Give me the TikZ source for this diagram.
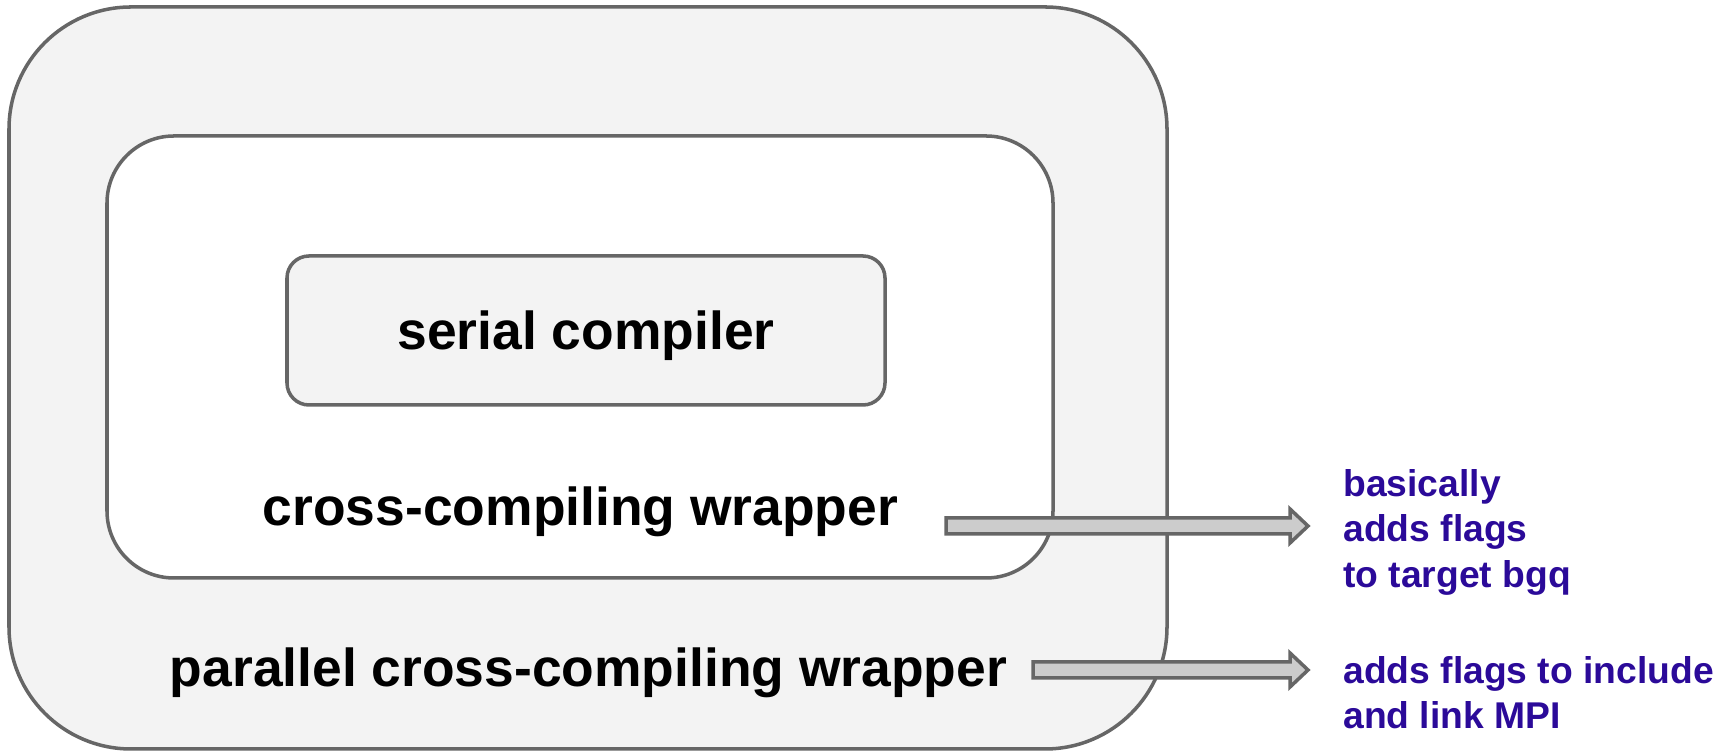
\documentclass[tikz,border=0pt]{standalone}
\usepackage{fontspec}
\setmainfont{Liberation Sans}
\usepackage{tikz}
\usetikzlibrary{positioning,calc}
\usepackage{xcolor}
\definecolor{boxgray}{HTML}{F3F3F3}
\definecolor{linegray}{HTML}{666666}
\definecolor{arrowgray}{HTML}{CCCCCC}
\definecolor{noteblue}{HTML}{2B0A99}

\begin{document}
\begin{tikzpicture}[
    box/.style={draw=linegray, line width=2pt, rectangle, inner sep=0pt},
    label/.style={inner sep=0pt, font=\bfseries\fontsize{30.4pt}{36pt}\selectfont},
    note/.style={inner sep=0pt, anchor=north west, align=left, text=noteblue, font=\bfseries\fontsize{21.2pt}{25.9pt}\selectfont},
    fatarrow/.style={draw=linegray, fill=arrowgray, line width=2pt}]
                    \useasboundingbox (0,0) rectangle (34.6,15.02);
                    % Level 0
                    \node[box, fill=boxgray, rounded corners=2.44cm, minimum width=23.16cm, minimum height=14.84cm] (outer) at (11.76,7.46) {};
                    % Level 1
                    \node[box, fill=white, rounded corners=1.34cm, minimum width=18.92cm, minimum height=8.84cm] (inner) at (11.6,7.88) {};
                    % Level 2
                    \node[box, fill=boxgray, rounded corners=0.44cm, minimum width=11.96cm, minimum height=2.98cm] (serial) at (11.72,8.41) {};
                    % labels
                    \node[label] (seriallabel) at (11.72,8.3) {serial compiler};
                    \node[label] (crosslabel) at (11.61,4.78) {cross-compiling wrapper};
                    \node[label] (parlabel) at (11.77,1.56) {parallel cross-compiling wrapper};
                    % notes
                    \node[note] (crossnote) at (26.86,5.64) {basically\\adds flags\\to target bgq};
                    \node[note] (parnote) at (26.86,1.9) {adds flags to include\\and link MPI};
                    % arrows
                    \coordinate (t1) at (18.92,4.5);
                    \coordinate (h1) at (26.16,4.5);
                    \coordinate (t2) at (20.66,1.62);
                    \coordinate (h2) at (26.16,1.62);
                    \draw[fatarrow] ($(t1)+(0,0.16)$) -- ($(h1)+(-0.36,0.16)$) -- ($(h1)+(-0.36,0.34)$) -- (h1)
                        -- ($(h1)+(-0.36,-0.34)$) -- ($(h1)+(-0.36,-0.16)$) -- ($(t1)+(0,-0.16)$) -- cycle;
                    \draw[fatarrow] ($(t2)+(0,0.16)$) -- ($(h2)+(-0.36,0.16)$) -- ($(h2)+(-0.36,0.34)$) -- (h2)
                        -- ($(h2)+(-0.36,-0.34)$) -- ($(h2)+(-0.36,-0.16)$) -- ($(t2)+(0,-0.16)$) -- cycle;
                \end{tikzpicture}
\end{document}
